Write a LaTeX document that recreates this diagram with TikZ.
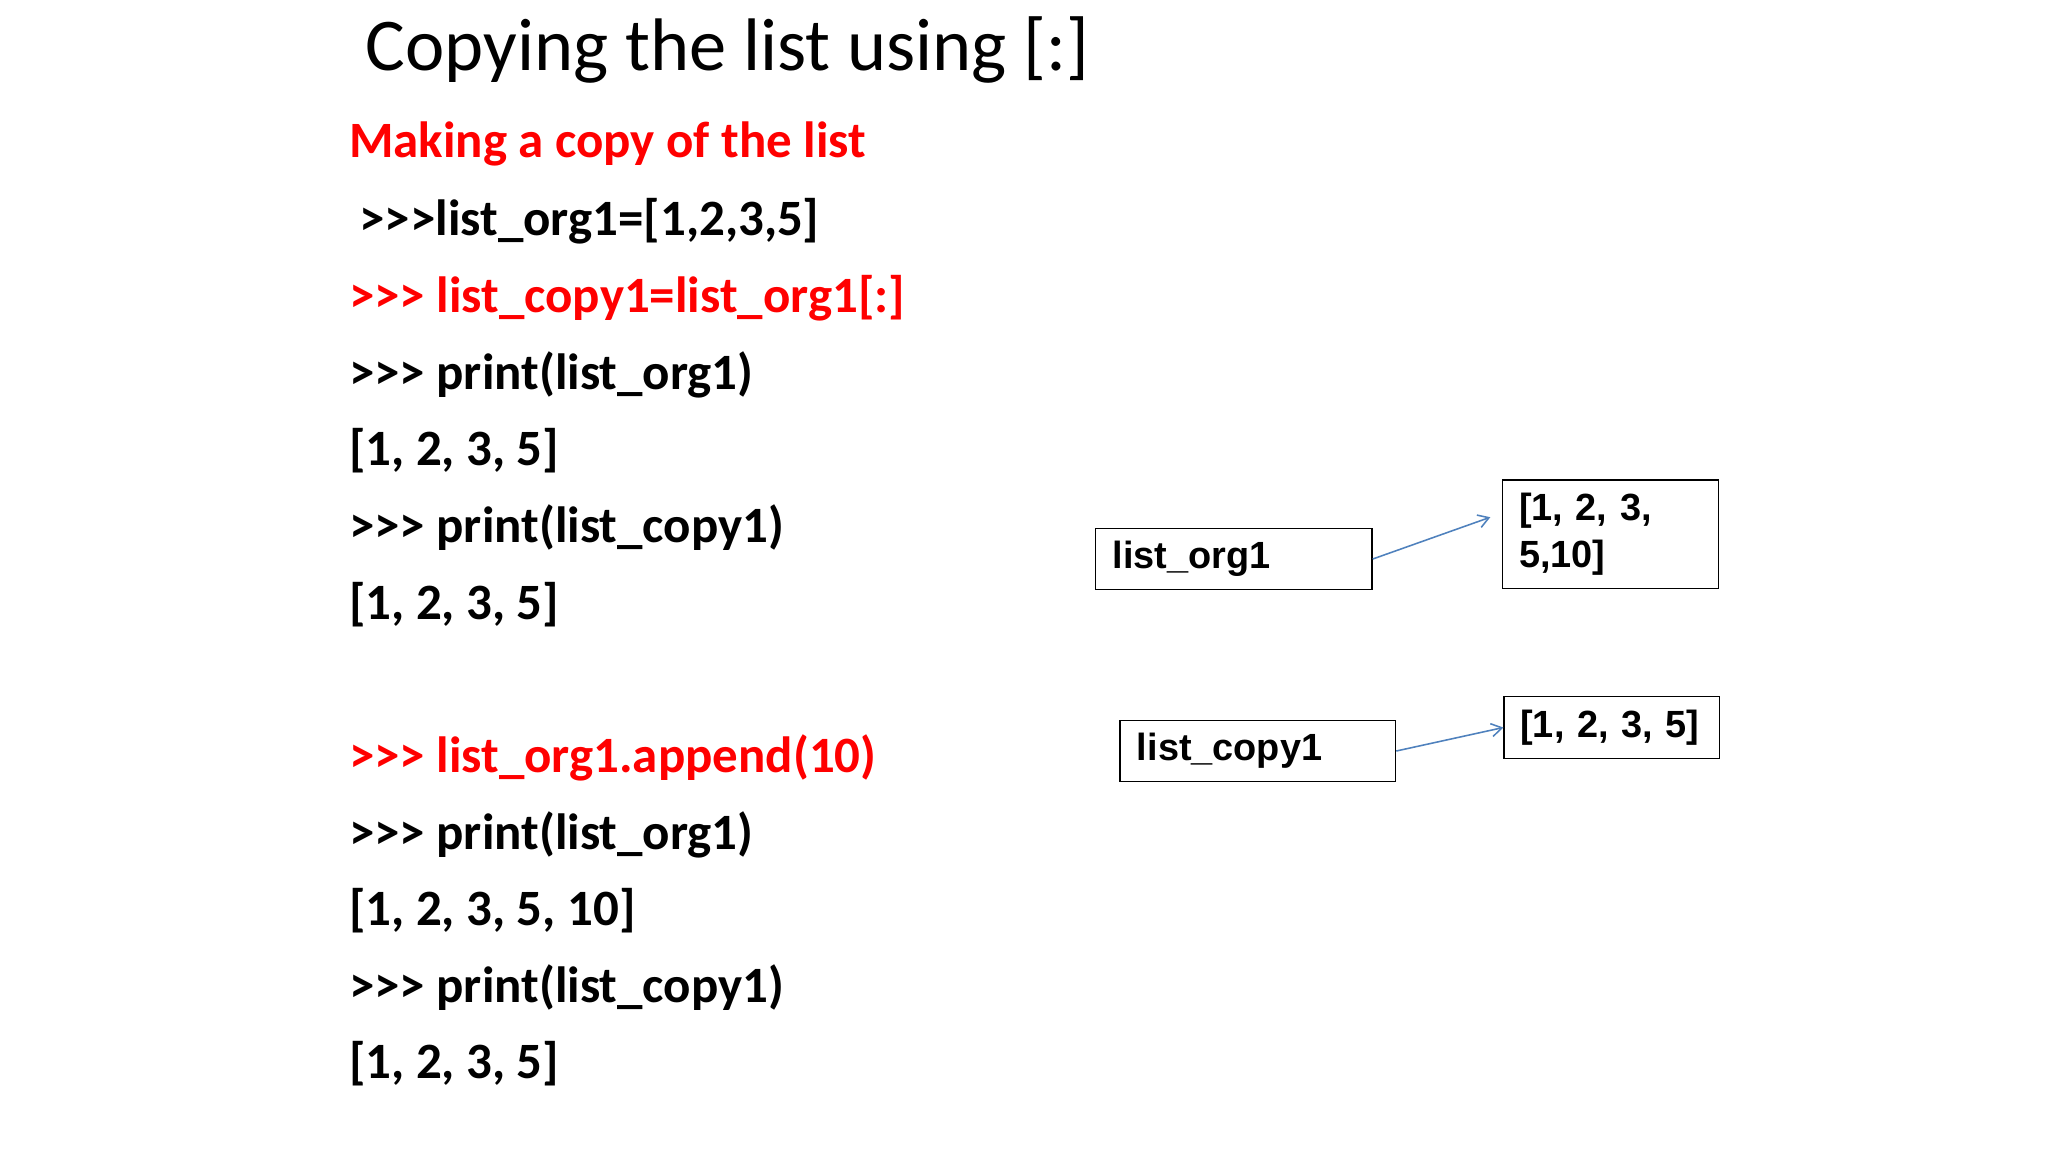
\documentclass[tikz,border=0pt]{standalone}
\usepackage{fontspec}
\setmainfont{Carlito}
\newfontfamily\arialf{Liberation Sans}
\usetikzlibrary{arrows.meta}
\definecolor{redc}{RGB}{255,0,0}
\definecolor{bluec}{RGB}{79,129,189}
\begin{document}
\begin{tikzpicture}[x=1pt,y=-1pt,
  code/.style={anchor=west,font=\fontsize{39}{43}\selectfont\bfseries,inner sep=0pt},
  box/.style={draw,line width=1pt,anchor=north west,font=\arialf\fontsize{29}{33}\selectfont\bfseries,align=left,inner sep=0pt},
  conn/.style={bluec,line width=1.2pt,-{Straight Barb[length=8pt,width=10pt]}}]
\useasboundingbox (0,0) rectangle (1568,882);
\node[anchor=west,inner sep=0pt,font=\fontsize{57}{60}\selectfont] (title) at (280,38) {Copying the list using [:]};
\node[code,text=redc] (l1) at (267,110) {Making a copy of the list};
\node[code] (l2) at (275,169) {>{}>{}>list\_org1=[1,2,3,5]};
\node[code,text=redc] (l3) at (267,228) {>{}>{}> list\_copy1=list\_org1[:]};
\node[code] (l4) at (267,287) {>{}>{}> print(list\_org1)};
\node[code] (l5) at (267,345) {[1, 2, 3, 5]};
\node[code] (l6) at (267,404) {>{}>{}> print(list\_copy1)};
\node[code] (l7) at (267,463) {[1, 2, 3, 5]};
\node[code,text=redc] (l8) at (267,580) {>{}>{}> list\_org1.append(10)};
\node[code] (l9) at (267,639) {>{}>{}> print(list\_org1)};
\node[code] (l10) at (267,697) {[1, 2, 3, 5, 10]};
\node[code] (l11) at (267,756) {>{}>{}> print(list\_copy1)};
\node[code] (l12) at (267,814) {[1, 2, 3, 5]};
\node[box,minimum width=212pt,minimum height=47pt,text width=185pt,inner xsep=12pt] (org) at (838,404) {\raisebox{-4pt}{list\_org1}};
\node[box,minimum width=165pt,minimum height=83pt,text width=140pt,inner xsep=12pt,inner ysep=6pt,font=\arialf\fontsize{29}{36}\selectfont\bfseries] (v1) at (1150,367) {\raisebox{-3pt}{[1, 2, 3,}\\\raisebox{-3pt}{5,10]}};
\node[box,minimum width=211pt,minimum height=47pt,text width=185pt,inner xsep=12pt] (cp) at (857,551) {\raisebox{-4pt}{list\_copy1}};
\node[box,minimum width=165pt,minimum height=47pt,text width=140pt,inner xsep=12pt] (v2) at (1151,533) {\raisebox{-3pt}{[1, 2, 3, 5]}};
\draw[conn] (org.east) -- (1141,396);
\draw[conn] (cp.east) -- (v2.west);
\end{tikzpicture}
\end{document}
